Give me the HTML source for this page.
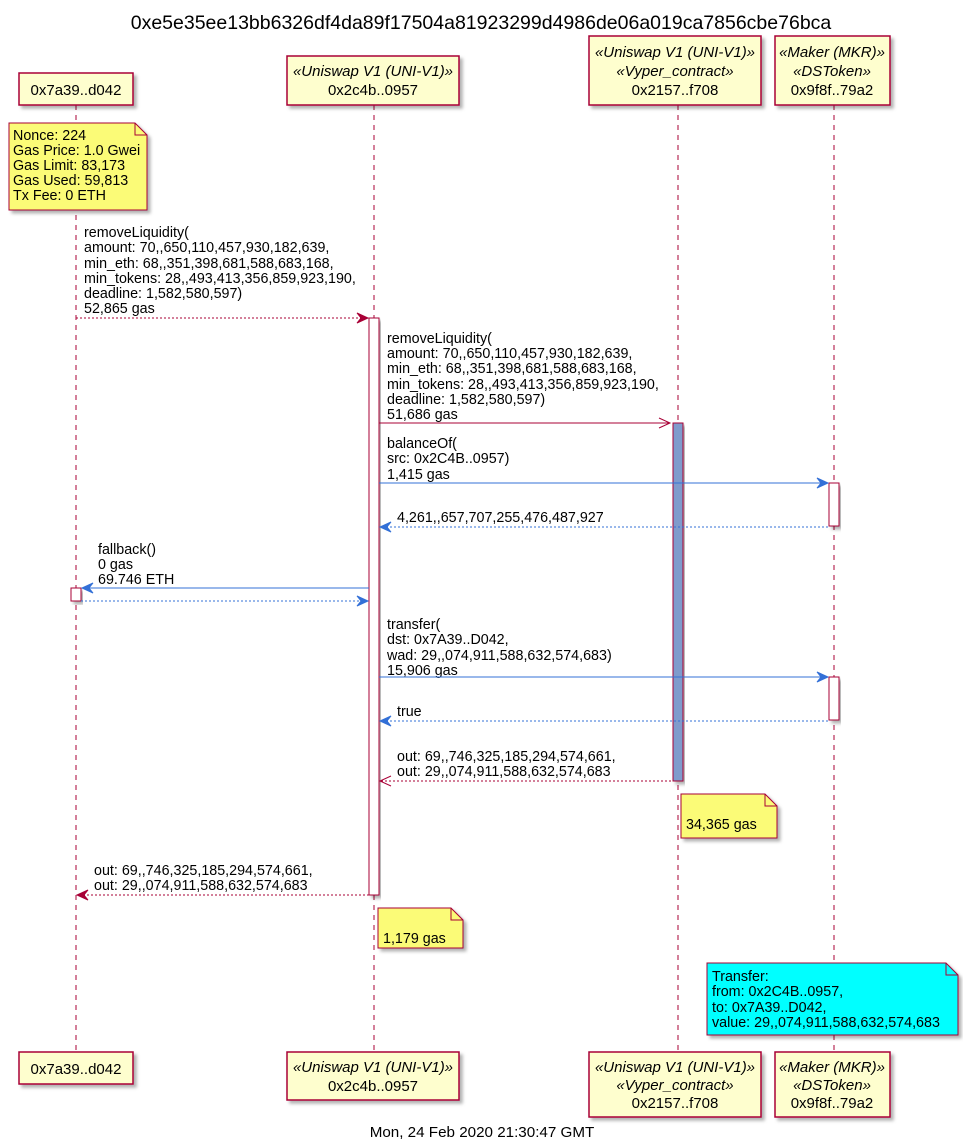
<!DOCTYPE html>
<html><head><meta charset="utf-8"><style>
html,body{margin:0;padding:0;background:#fff}
svg text{font-family:"Liberation Sans","DejaVu Sans",sans-serif;font-size:14.3px;fill:#000}
svg text.p{font-size:15px}
</style></head><body>
<svg width="963" height="1143" viewBox="0 0 963 1143" xmlns="http://www.w3.org/2000/svg">
<defs>
<filter id="sh" x="-10%" y="-10%" width="130%" height="140%"><feDropShadow dx="3" dy="3" stdDeviation="1.5" flood-color="#000" flood-opacity="0.3"/></filter>
</defs>
<text x="481" y="29" text-anchor="middle" style="font-size:19.5px">0xe5e35ee13bb6326df4da89f17504a81923299d4986de06a019ca7856cbe76bca</text>
<g stroke="#A80036" stroke-dasharray="5,5" stroke-width="1">
<line x1="76" y1="105" x2="76" y2="1052"/>
<line x1="374" y1="105" x2="374" y2="1052"/>
<line x1="678" y1="105" x2="678" y2="1052"/>
<line x1="834" y1="105" x2="834" y2="1052"/>
</g>
<g fill="#FEFECE" stroke="#A80036" stroke-width="1.5" filter="url(#sh)">
<rect x="19" y="73" width="114" height="32"/>
<rect x="287" y="56" width="172" height="49"/>
<rect x="589" y="36" width="172" height="69"/>
<rect x="775" y="36" width="115" height="69"/>
<rect x="19" y="1052" width="114" height="32"/>
<rect x="287" y="1052" width="172" height="48"/>
<rect x="589" y="1052" width="172" height="65"/>
<rect x="775" y="1052" width="115" height="65"/>
</g>
<g text-anchor="middle">
<text class="p" x="76" y="95">0x7a39..d042</text>
<text class="p" x="373" y="76" font-style="italic">«Uniswap V1 (UNI-V1)»</text>
<text class="p" x="373" y="95">0x2c4b..0957</text>
<text class="p" x="675" y="57" font-style="italic">«Uniswap V1 (UNI-V1)»</text>
<text class="p" x="675" y="76" font-style="italic">«Vyper_contract»</text>
<text class="p" x="675" y="95">0x2157..f708</text>
<text class="p" x="832" y="57" font-style="italic">«Maker (MKR)»</text>
<text class="p" x="832" y="76" font-style="italic">«DSToken»</text>
<text class="p" x="832" y="95">0x9f8f..79a2</text>
<text class="p" x="76" y="1074">0x7a39..d042</text>
<text class="p" x="373" y="1072" font-style="italic">«Uniswap V1 (UNI-V1)»</text>
<text class="p" x="373" y="1091">0x2c4b..0957</text>
<text class="p" x="675" y="1072" font-style="italic">«Uniswap V1 (UNI-V1)»</text>
<text class="p" x="675" y="1090" font-style="italic">«Vyper_contract»</text>
<text class="p" x="675" y="1108">0x2157..f708</text>
<text class="p" x="832" y="1072" font-style="italic">«Maker (MKR)»</text>
<text class="p" x="832" y="1090" font-style="italic">«DSToken»</text>
<text class="p" x="832" y="1108">0x9f8f..79a2</text>
</g>
<!-- note 1 -->
<path d="M9,123 H135 L147,135 V210 H9 Z" fill="#FBFB77" stroke="#A80036" filter="url(#sh)"/>
<path d="M135,123 V135 H147" fill="none" stroke="#A80036"/>
<text x="13" y="140">Nonce: 224</text>
<text x="13" y="155">Gas Price: 1.0 Gwei</text>
<text x="13" y="170">Gas Limit: 83,173</text>
<text x="13" y="185">Gas Used: 59,813</text>
<text x="13" y="200">Tx Fee: 0 ETH</text>
<!-- activations -->
<rect x="369" y="318" width="10" height="577" fill="#fff" stroke="#A80036" filter="url(#sh)"/>
<rect x="673" y="423" width="10" height="358" fill="#7F9BCC" stroke="#A80036" filter="url(#sh)"/>
<rect x="829" y="483" width="10" height="43" fill="#fff" stroke="#A80036" filter="url(#sh)"/>
<rect x="829" y="677" width="10" height="43" fill="#fff" stroke="#A80036" filter="url(#sh)"/>
<rect x="71" y="588" width="10" height="13" fill="#fff" stroke="#A80036" filter="url(#sh)"/>
<!-- msg1 -->
<text x="84" y="237">removeLiquidity(</text>
<text x="84" y="252">amount: 70,,650,110,457,930,182,639,</text>
<text x="84" y="268">min_eth: 68,,351,398,681,588,683,168,</text>
<text x="84" y="283">min_tokens: 28,,493,413,356,859,923,190,</text>
<text x="84" y="298">deadline: 1,582,580,597)</text>
<text x="84" y="313">52,865 gas</text>
<line x1="76" y1="318" x2="366" y2="318" stroke="#A80036" stroke-dasharray="2,2"/>
<path d="M357,313 L368,318 L357,323 L361,318 Z" fill="#A80036" stroke="#A80036"/>
<!-- msg2 -->
<text x="387" y="343">removeLiquidity(</text>
<text x="387" y="358">amount: 70,,650,110,457,930,182,639,</text>
<text x="387" y="373">min_eth: 68,,351,398,681,588,683,168,</text>
<text x="387" y="389">min_tokens: 28,,493,413,356,859,923,190,</text>
<text x="387" y="404">deadline: 1,582,580,597)</text>
<text x="387" y="419">51,686 gas</text>
<line x1="379" y1="423" x2="670" y2="423" stroke="#A80036"/>
<path d="M659,418 L670,423 L659,428" fill="none" stroke="#A80036"/>
<!-- balanceOf -->
<text x="387" y="448">balanceOf(</text>
<text x="387" y="463">src: 0x2C4B..0957)</text>
<text x="387" y="479">1,415 gas</text>
<line x1="379" y1="483" x2="826" y2="483" stroke="#3370D7"/>
<path d="M817,478 L828,483 L817,488 L821,483 Z" fill="#3370D7" stroke="#3370D7"/>
<text x="397" y="522">4,261,,657,707,255,476,487,927</text>
<line x1="382" y1="527" x2="829" y2="527" stroke="#3370D7" stroke-dasharray="2,2"/>
<path d="M391,522 L380,527 L391,532 L387,527 Z" fill="#3370D7" stroke="#3370D7"/>
<!-- fallback -->
<text x="98" y="554">fallback()</text>
<text x="98" y="569">0 gas</text>
<text x="98" y="584">69.746 ETH</text>
<line x1="84" y1="588" x2="369" y2="588" stroke="#3370D7"/>
<path d="M93,583 L82,588 L93,593 L89,588 Z" fill="#3370D7" stroke="#3370D7"/>
<line x1="81" y1="601" x2="366" y2="601" stroke="#3370D7" stroke-dasharray="2,2"/>
<path d="M357,596 L368,601 L357,606 L361,601 Z" fill="#3370D7" stroke="#3370D7"/>
<!-- transfer -->
<text x="387" y="629">transfer(</text>
<text x="387" y="644">dst: 0x7A39..D042,</text>
<text x="387" y="660">wad: 29,,074,911,588,632,574,683)</text>
<text x="387" y="675">15,906 gas</text>
<line x1="379" y1="677" x2="826" y2="677" stroke="#3370D7"/>
<path d="M817,672 L828,677 L817,682 L821,677 Z" fill="#3370D7" stroke="#3370D7"/>
<text x="397" y="716">true</text>
<line x1="382" y1="721" x2="829" y2="721" stroke="#3370D7" stroke-dasharray="2,2"/>
<path d="M391,716 L380,721 L391,726 L387,721 Z" fill="#3370D7" stroke="#3370D7"/>
<!-- return out 1 -->
<text x="397" y="761">out: 69,,746,325,185,294,574,661,</text>
<text x="397" y="776">out: 29,,074,911,588,632,574,683</text>
<line x1="381" y1="781" x2="673" y2="781" stroke="#A80036" stroke-dasharray="2,2"/>
<path d="M391,776 L380,781 L391,786" fill="none" stroke="#A80036"/>
<!-- note 34,365 -->
<path d="M681,794 H765 L777,806 V838 H681 Z" fill="#FBFB77" stroke="#A80036" filter="url(#sh)"/>
<path d="M765,794 V806 H777" fill="none" stroke="#A80036"/>
<text x="686" y="829">34,365 gas</text>
<!-- return out 2 -->
<text x="94" y="875">out: 69,,746,325,185,294,574,661,</text>
<text x="94" y="890">out: 29,,074,911,588,632,574,683</text>
<line x1="79" y1="895" x2="369" y2="895" stroke="#A80036" stroke-dasharray="2,2"/>
<path d="M88,890 L77,895 L88,900 L84,895 Z" fill="#A80036" stroke="#A80036"/>
<!-- note 1,179 -->
<path d="M378,908 H451 L463,920 V948 H378 Z" fill="#FBFB77" stroke="#A80036" filter="url(#sh)"/>
<path d="M451,908 V920 H463" fill="none" stroke="#A80036"/>
<text x="383" y="943">1,179 gas</text>
<!-- cyan note -->
<path d="M707,963 H946 L958,975 V1035 H707 Z" fill="#00FFFF" stroke="#A80036" filter="url(#sh)"/>
<path d="M946,963 V975 H958" fill="none" stroke="#A80036"/>
<text x="712" y="981">Transfer:</text>
<text x="712" y="996">from: 0x2C4B..0957,</text>
<text x="712" y="1012">to: 0x7A39..D042,</text>
<text x="712" y="1027">value: 29,,074,911,588,632,574,683</text>
<text x="482" y="1137" text-anchor="middle" style="font-size:15.2px">Mon, 24 Feb 2020 21:30:47 GMT</text>
</svg>
</body></html>
